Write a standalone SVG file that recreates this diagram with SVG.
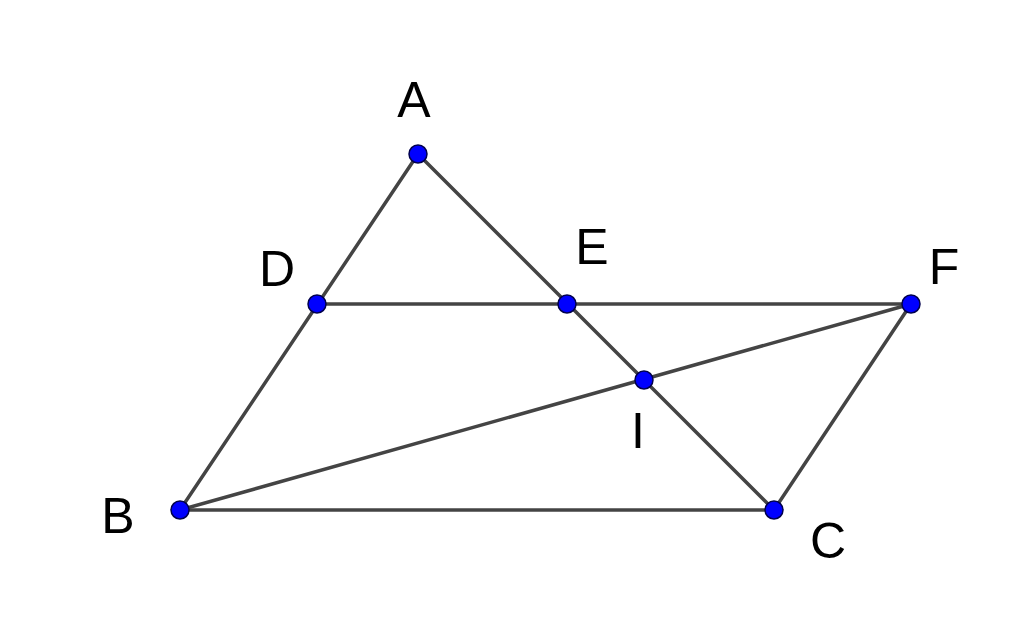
<svg xmlns="http://www.w3.org/2000/svg" width="1024" height="620" viewBox="0 0 1024 620">
<style>
.seg{stroke:#444;stroke-width:3.5;fill:none;stroke-linecap:round}
.pt{fill:#0000ff;stroke:#00004d;stroke-width:1.5}
.lbl{font-family:"Liberation Sans",Arial,sans-serif;font-size:50px;fill:#000;text-anchor:middle}
</style>
<rect width="1024" height="620" fill="#fff"/>
<g id="connectors">
<line class="seg" x1="418" y1="154" x2="180" y2="510"/>
<line class="seg" x1="418" y1="154" x2="774" y2="510"/>
<line class="seg" x1="180" y1="510" x2="774" y2="510"/>
<line class="seg" x1="317" y1="304" x2="911" y2="304"/>
<line class="seg" x1="180" y1="510" x2="911" y2="304"/>
<line class="seg" x1="774" y1="510" x2="911" y2="304"/>
</g>
<g id="A"><circle class="pt" cx="418" cy="154" r="9"/><text class="lbl" x="414" y="117">A</text></g>
<g id="D"><circle class="pt" cx="317" cy="304" r="9"/><text class="lbl" x="277" y="286">D</text></g>
<g id="E"><circle class="pt" cx="567" cy="304" r="9"/><text class="lbl" x="592" y="264">E</text></g>
<g id="F"><circle class="pt" cx="911" cy="304" r="9"/><text class="lbl" x="944" y="284">F</text></g>
<g id="I"><circle class="pt" cx="644" cy="380" r="9"/><text class="lbl" x="638" y="448">I</text></g>
<g id="B"><circle class="pt" cx="180" cy="510" r="9"/><text class="lbl" x="118" y="533">B</text></g>
<g id="C"><circle class="pt" cx="774" cy="510" r="9"/><text class="lbl" x="828" y="558">C</text></g>
</svg>
